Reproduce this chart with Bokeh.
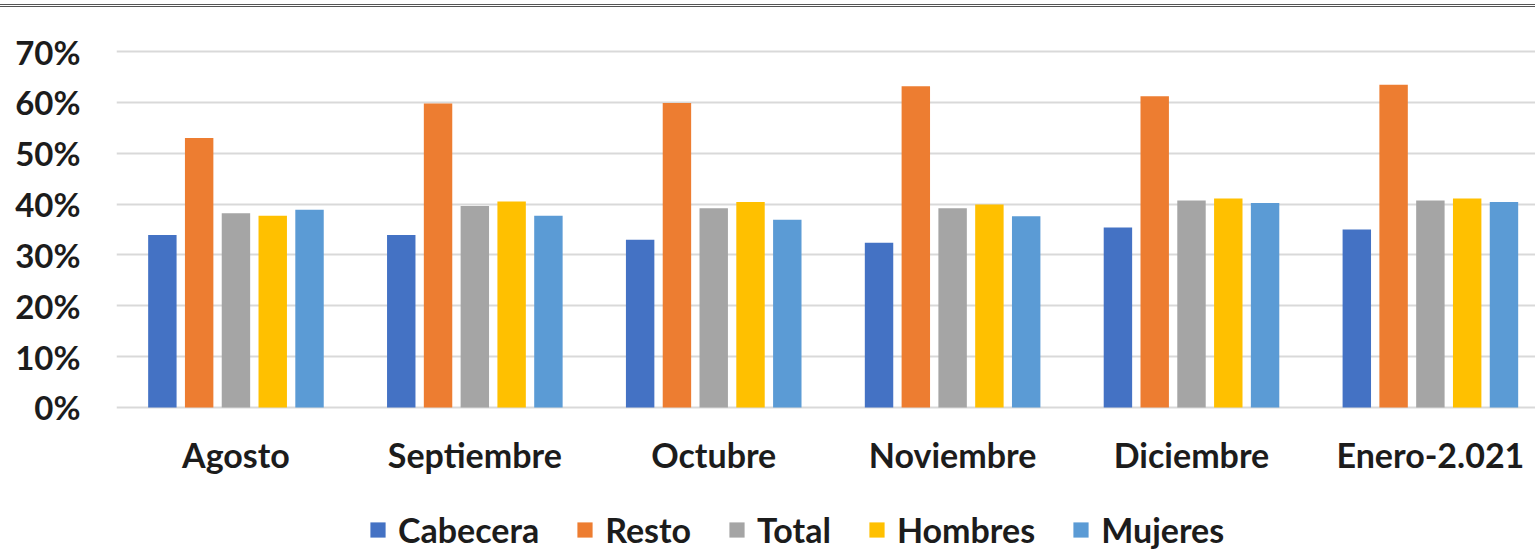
from bokeh.plotting import figure
from bokeh.models import (Range1d, FixedTicker, NumeralTickFormatter, Legend,
                          LegendItem, ColumnDataSource, Div)
from bokeh.layouts import column
from bokeh.transform import dodge
from bokeh.embed import file_html
from bokeh.resources import INLINE

# Monthly shares per group (fractions of 1)
months = ["Agosto", "Septiembre", "Octubre", "Noviembre", "Diciembre", "Enero-2.021"]
cabecera = [0.339, 0.339, 0.330, 0.324, 0.354, 0.350]
resto = [0.530, 0.598, 0.599, 0.632, 0.612, 0.635]
total = [0.382, 0.396, 0.392, 0.392, 0.407, 0.407]
hombres = [0.377, 0.405, 0.404, 0.399, 0.411, 0.411]
mujeres = [0.389, 0.377, 0.369, 0.376, 0.402, 0.404]
y_ticks = [0, 0.1, 0.2, 0.3, 0.4, 0.5, 0.6, 0.7]

series = [
    ("Cabecera", cabecera, "#4472C4"),
    ("Resto", resto, "#ED7D31"),
    ("Total", total, "#A5A5A5"),
    ("Hombres", hombres, "#FFC000"),
    ("Mujeres", mujeres, "#5B9BD5"),
]

FONT = "Lato"
TEXT_COLOR = "#1c1c1c"

source = ColumnDataSource(dict(
    x=list(range(len(months))),
    cabecera=cabecera, resto=resto, total=total, hombres=hombres, mujeres=mujeres,
))

# thin rule across the top of the page
top_rule = Div(text="", width=1535, height=7, margin=(0, 0, 0, 0),
               styles={"border-bottom": "3px double #555555", "box-sizing": "border-box"})

p = figure(width=1535, height=499, output_backend="svg", toolbar_location=None,
           x_range=Range1d(-0.5, 5.44), y_range=Range1d(-0.01, 0.71),
           min_border_left=116, min_border_right=0, min_border_top=39,
           min_border_bottom=94, margin=(0, 0, 0, 0))
p.outline_line_color = None
p.background_fill_color = "white"
p.border_fill_color = "white"

step = 0.154
bar_w = 0.119
for j, (name, vals, color) in enumerate(series):
    p.vbar(x=dodge("x", (j - 2) * step, range=p.x_range), top=name.lower(),
           width=bar_w, bottom=0, source=source, fill_color=color,
           line_color=None)

# axes
p.xgrid.grid_line_color = None
p.ygrid.grid_line_color = "#d9d9d9"
p.ygrid.grid_line_width = 2
p.yaxis.ticker = FixedTicker(ticks=y_ticks)
p.ygrid.ticker = FixedTicker(ticks=y_ticks)
p.yaxis.formatter = NumeralTickFormatter(format="0%")
p.xaxis.ticker = FixedTicker(ticks=list(range(len(months))))
p.xaxis.major_label_overrides = {i: m for i, m in enumerate(months)}

for ax in (p.xaxis[0], p.yaxis[0]):
    ax.axis_line_color = None
    ax.major_tick_line_color = None
    ax.minor_tick_line_color = None
    ax.major_label_text_font = FONT
    ax.major_label_text_font_style = "bold"
    ax.major_label_text_color = TEXT_COLOR

p.yaxis.major_label_standoff = 30
p.yaxis.major_label_text_font_size = "33px"
p.xaxis.major_label_text_font_size = "34px"
p.xaxis.major_label_standoff = 15

# legend strip underneath the chart; its key renderers are hidden,
# only their swatches show in the legend
lg = figure(width=1535, height=44, output_backend="svg", toolbar_location=None,
            x_range=Range1d(0, 1), y_range=Range1d(0, 1),
            x_axis_type=None, y_axis_type=None,
            min_border=0, margin=(0, 0, 0, 0))
lg.outline_line_color = None
lg.grid.grid_line_color = None
keys = []
for name, vals, color in series:
    r = lg.vbar(x="x", top=name.lower(), width=bar_w, source=source,
                fill_color=color, line_color=None, visible=False)
    keys.append(LegendItem(label=name, renderers=[r]))

legend = Legend(
    items=keys, orientation="horizontal", location=(252, 0),
    glyph_width=19, glyph_height=19, label_standoff=11, spacing=36,
    padding=0, margin=0, border_line_color=None, background_fill_alpha=0,
    inactive_fill_alpha=0,
    label_text_font=FONT, label_text_font_style="bold",
    label_text_font_size="34px", label_text_color=TEXT_COLOR,
)
lg.add_layout(legend, "center")

layout = column(top_rule, p, lg, spacing=0)
open("out.html", "w").write(file_html(layout, INLINE))
